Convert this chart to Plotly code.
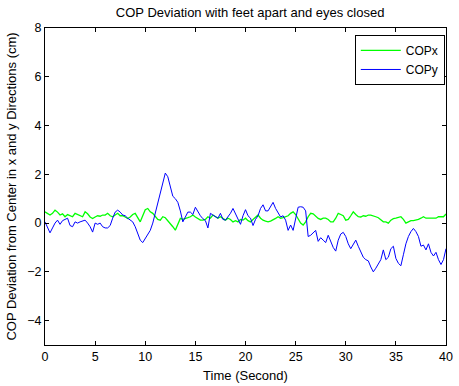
import plotly.graph_objects as go

time_s = [i * 0.25 for i in range(161)]

cop_x = [0.46, 0.38, 0.33, 0.4, 0.53, 0.45, 0.33, 0.38, 0.26, 0.35, 0.3, 0.26, 0.4, 0.35, 0.3, 0.26,
         0.46, 0.38, 0.25, 0.19, 0.25, 0.3, 0.28, 0.33, 0.33, 0.4, 0.3, 0.26, 0.33, 0.4, 0.3, 0.3,
         0.25, 0.19, 0.25, 0.35, 0.4, 0.2, 0.05, 0.3, 0.55, 0.6, 0.46, 0.4, 0.25, 0.15, 0.12, 0.26,
         0.22, 0.1, 0.0, -0.15, -0.29, -0.08, 0.19, 0.15, 0.2, 0.22, 0.26, 0.33, 0.25, 0.2, 0.12, 0.12,
         0.15, 0.26, 0.2, 0.33, 0.28, 0.2, 0.26, 0.2, 0.12, 0.2, 0.15, 0.05, 0.1, 0.05, 0.15, 0.12,
         0.2, 0.1, 0.05, 0.15, 0.26, 0.33, 0.2, 0.12, 0.08, 0.05, 0.08, 0.12, 0.19, 0.26, 0.2, 0.22,
         0.26, 0.3, 0.4, 0.46, 0.35, 0.15, 0.0, -0.08, 0.05, 0.26, 0.4, 0.38, 0.3, 0.19, 0.15, 0.2,
         0.2, 0.15, 0.05, 0.05, 0.2, 0.4, 0.35, 0.3, 0.12, 0.15, 0.3, 0.46, 0.35, 0.26, 0.25, 0.3,
         0.28, 0.33, 0.33, 0.28, 0.26, 0.22, 0.15, 0.05, 0.05, 0.0, 0.12, 0.18, 0.2, 0.22, 0.26, 0.15,
         0.0, 0.05, 0.1, 0.1, 0.12, 0.15, 0.2, 0.26, 0.2, 0.2, 0.2, 0.22, 0.2, 0.26, 0.25, 0.26, 0.37]

cop_y = [0.05, -0.2, -0.4, -0.2, 0.0, 0.12, -0.05, 0.1, 0.15, 0.2, -0.1, -0.15, 0.05, 0.0, 0.05, 0.1,
         0.12, 0.0, -0.15, -0.37, 0.0, -0.05, 0.0, -0.15, -0.2, -0.2, -0.1, 0.2, 0.45, 0.53, 0.45, 0.33,
         0.3, 0.2, 0.12, 0.05, -0.15, -0.45, -0.7, -0.8, -0.65, -0.5, -0.3, 0.0, 0.4, 0.8, 1.2, 1.6,
         2.05, 1.9, 1.5, 1.1, 1.0, 0.85, 0.5, 0.05, 0.25, 0.45, 0.45, 0.35, 0.65, 0.45, 0.3, 0.18,
         0.1, -0.2, 0.4, 0.33, 0.25, 0.2, 0.4, 0.15, 0.12, 0.25, 0.4, 0.6, 0.4, 0.2, -0.05, 0.3,
         0.55, 0.3, 0.2, -0.1, 0.15, 0.3, 0.6, 0.75, 0.5, 0.5, 0.7, 0.85, 0.6, 0.4, 0.25, 0.3,
         0.12, -0.3, -0.08, -0.3, 0.12, 0.65, 0.67, 0.65, 0.5, -0.55, -0.5, -0.4, -0.3, -0.75, -0.6, -0.7,
         -0.8, -0.5, -0.75, -1.0, -1.15, -0.7, -0.45, -0.38, -0.55, -0.85, -1.05, -0.85, -0.7, -0.95, -1.2, -1.4,
         -1.5, -1.55, -1.8, -2.0, -1.85, -1.65, -1.5, -1.1, -1.5, -1.4, -1.05, -0.95, -1.45, -1.65, -1.75, -1.3,
         -0.85, -0.55, -0.35, -0.22, -0.35, -0.55, -0.95, -0.9, -1.1, -0.85, -1.2, -1.35, -1.2, -1.5, -1.7, -1.5, -1.05]

x_ticks = [0, 5, 10, 15, 20, 25, 30, 35, 40]
y_ticks = [-4, -2, 0, 2, 4, 6, 8]

font = "Liberation Sans, Arial, Helvetica, sans-serif"

fig = go.Figure()
fig.add_trace(go.Scatter(x=time_s, y=cop_x, mode="lines", name="COPx",
                         line=dict(color="#00ff00", width=1.3)))
fig.add_trace(go.Scatter(x=time_s, y=cop_y, mode="lines", name="COPy",
                         line=dict(color="#0000ff", width=1)))

axis_common = dict(showline=True, linecolor="black", linewidth=1, mirror="ticks",
                   ticks="inside", ticklen=4, tickcolor="black", showgrid=False,
                   zeroline=False, ticklabeloverflow="allow",
                   tickfont=dict(family=font, size=12.5, color="black"))

fig.update_layout(
    width=459, height=386,
    margin=dict(l=45, r=6, t=28, b=41),
    paper_bgcolor="white", plot_bgcolor="white",
    font=dict(family=font, size=12.5, color="black"),
    title=dict(text="COP Deviation with feet apart and eyes closed", x=0.545, xanchor="center",
               y=0.968, yanchor="middle", font=dict(family=font, size=13, color="black")),
    xaxis=dict(range=[0, 40], tickvals=x_ticks, **axis_common,
               title=dict(text="Time (Second)", font=dict(family=font, size=13), standoff=7)),
    yaxis=dict(range=[-5, 8], tickvals=y_ticks, **axis_common,
               title=dict(text="COP Deviation from Center in x and y Directions (cm)",
                          font=dict(family=font, size=13), standoff=7)),
    legend=dict(x=0.997, y=0.978, xanchor="right", yanchor="top", bgcolor="white",
                bordercolor="black", borderwidth=1, font=dict(family=font, size=12),
                tracegroupgap=0, itemwidth=40),
    showlegend=True,
)

fig.write_html("out.html")
